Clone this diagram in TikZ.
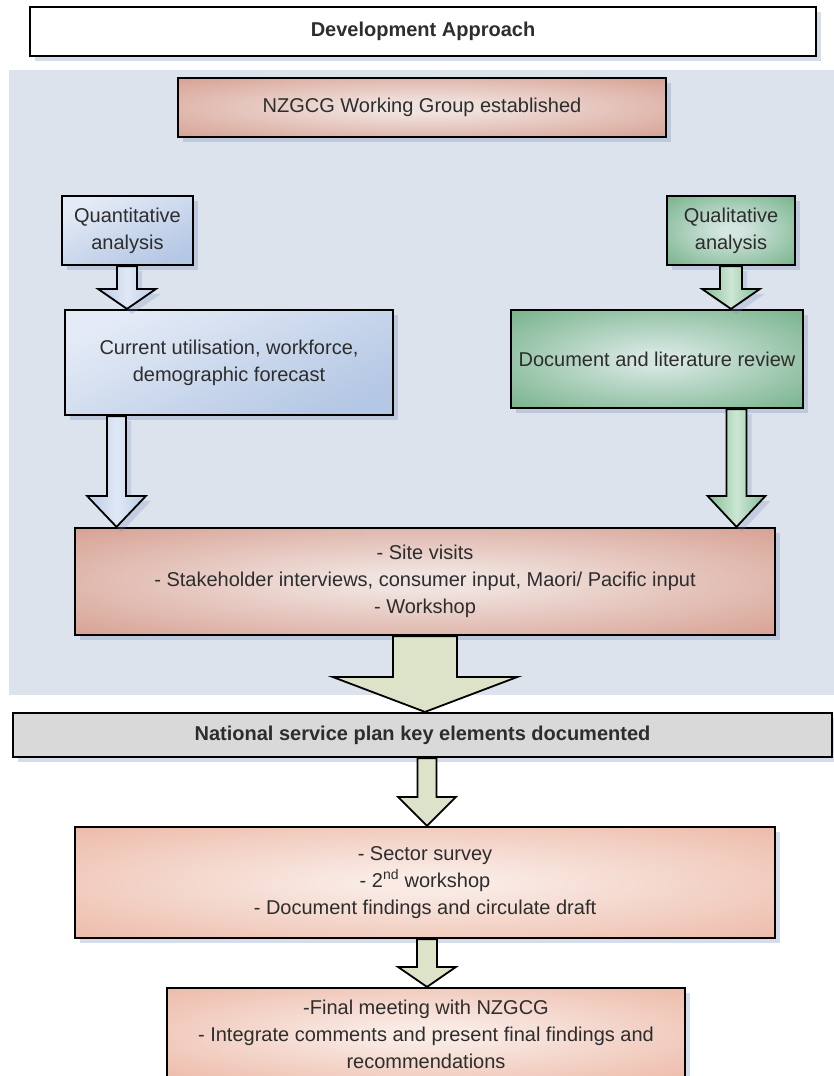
\documentclass[tikz,border=0pt]{standalone}
\usepackage{fontspec}
\setmainfont{Liberation Sans}
\usetikzlibrary{calc,shadows}

\definecolor{panelbg}{RGB}{220,227,237}
\definecolor{salE}{RGB}{215,160,146}
\definecolor{salC}{RGB}{240,226,222}
\definecolor{peachE}{RGB}{236,183,165}
\definecolor{peachC}{RGB}{249,234,228}
\definecolor{blueL}{RGB}{228,235,246}
\definecolor{blueD}{RGB}{180,199,228}
\definecolor{greenE}{RGB}{118,178,138}
\definecolor{greenC}{RGB}{212,230,224}
\definecolor{arrBlue}{RGB}{185,203,230}
\definecolor{arrBlueL}{RGB}{224,232,245}
\definecolor{arrGreen}{RGB}{130,190,150}
\definecolor{arrGreenL}{RGB}{205,230,212}
\definecolor{arrOlive}{RGB}{221,227,201}
\definecolor{nspgray}{RGB}{217,217,217}
\definecolor{shadowc}{RGB}{120,140,185}
\definecolor{txt}{RGB}{45,45,45}

\pgfdeclareradialshading{salglow}{\pgfpoint{0bp}{0bp}}{color(0bp)=(salC); color(5bp)=(salC); color(36bp)=(salE); color(100bp)=(salE)}
\pgfdeclareradialshading{peachglow}{\pgfpoint{0bp}{0bp}}{color(0bp)=(peachC); color(5bp)=(peachC); color(38bp)=(peachE); color(100bp)=(peachE)}
\pgfdeclareradialshading{greenglow}{\pgfpoint{0bp}{0bp}}{color(0bp)=(greenC); color(4bp)=(greenC); color(36bp)=(greenE); color(100bp)=(greenE)}

% block arrow: style, source node, target node, x of axis, shaft half width, head half width, head length
\newcommand\blockarrow[7]{%
  \draw[#1] let \p1=(#2.south), \p2=(#3.north) in
    ({#4pt-#5pt},\y1) -- ({#4pt-#5pt},{\y2+#7pt}) -- ({#4pt-#6pt},{\y2+#7pt})
    -- (#4pt,\y2) -- ({#4pt+#6pt},{\y2+#7pt}) -- ({#4pt+#5pt},{\y2+#7pt})
    -- ({#4pt+#5pt},\y1) -- cycle;}

\begin{document}
\begin{tikzpicture}[x=1pt,y=1pt,
  font=\fontsize{20}{27}\selectfont,
  box/.style={draw=black, line width=2.2pt, inner sep=0pt, align=center, text=txt,
    drop shadow={shadow xshift=5pt, shadow yshift=-5pt, fill=shadowc, opacity=0.3}},
  salbox/.style={box, shading=salglow},
  peachbox/.style={box, shading=peachglow},
  bluebox/.style={box, top color=blueL, bottom color=blueD, shading angle=25},
  greenbox/.style={box, shading=greenglow},
  barrow/.style={draw=black, line width=1.8pt, line join=miter},
  arrowshadow/.style={drop shadow={shadow xshift=5pt, shadow yshift=-5pt, fill=shadowc, opacity=0.25}},
  bluearrow/.style={barrow, arrowshadow, left color=arrBlue, right color=arrBlue, middle color=arrBlueL},
  greenarrow/.style={barrow, arrowshadow, left color=arrGreen, right color=arrGreen, middle color=arrGreenL},
  olivearrow/.style={barrow, fill=arrOlive}]

\useasboundingbox (0,0) rectangle (834,-1076);
\clip (0,0) rectangle (834,-1076);

% background panel of the first phase
\fill[panelbg] (9,-70) rectangle (834,-695);

\node[box, fill=white, font=\fontsize{20}{27}\selectfont\bfseries,
  minimum width=786pt, minimum height=49pt] (title) at (423,-31.5) {Development Approach};

\node[salbox, minimum width=488pt, minimum height=59pt] (wg) at (422,-107.5)
  {NZGCG Working Group established};

\node[bluebox, minimum width=131pt, minimum height=69pt] (quant) at (127.5,-230.5)
  {Quantitative\\analysis};
\node[greenbox, minimum width=128pt, minimum height=69pt] (qual) at (731,-230.5)
  {Qualitative\\analysis};

\node[bluebox, minimum width=328pt, minimum height=105pt] (cur) at (229,-362.5)
  {Current utilisation, workforce,\\demographic forecast};
\node[greenbox, minimum width=292pt, minimum height=98pt] (docrev) at (657,-359)
  {Document and literature review};

\node[salbox, minimum width=700pt, minimum height=107pt] (site) at (425,-581.5)
  {- Site visits\\- Stakeholder interviews, consumer input, Maori/ Pacific input\\- Workshop};

\node[box, fill=nspgray, font=\fontsize{20}{27}\selectfont\bfseries,
  minimum width=819pt, minimum height=44pt] (nsp) at (422.5,-735)
  {National service plan key elements documented};

\node[peachbox, minimum width=700pt, minimum height=111pt] (sector) at (425,-882.5)
  {- Sector survey\\- 2\textsuperscript{nd} workshop\\- Document findings and circulate draft};

\node[peachbox, minimum width=518pt, minimum height=92pt] (final) at (426,-1034)
  {-Final meeting with NZGCG\\- Integrate comments and present final findings and\\recommendations};

% block arrows between the stages
\blockarrow{bluearrow}{quant}{cur}{127}{10}{29}{20}
\blockarrow{greenarrow}{qual}{docrev}{731}{11}{29}{20}
\blockarrow{bluearrow}{cur}{site}{116.5}{9.5}{29.5}{31}
\blockarrow{greenarrow}{docrev}{site}{736.5}{10}{29}{31}
\blockarrow{olivearrow}{site}{nsp}{425}{32}{92.5}{35}
\blockarrow{olivearrow}{nsp}{sector}{427}{9.5}{29}{29}
\blockarrow{olivearrow}{sector}{final}{427}{10}{29}{20}

\end{tikzpicture}
\end{document}
